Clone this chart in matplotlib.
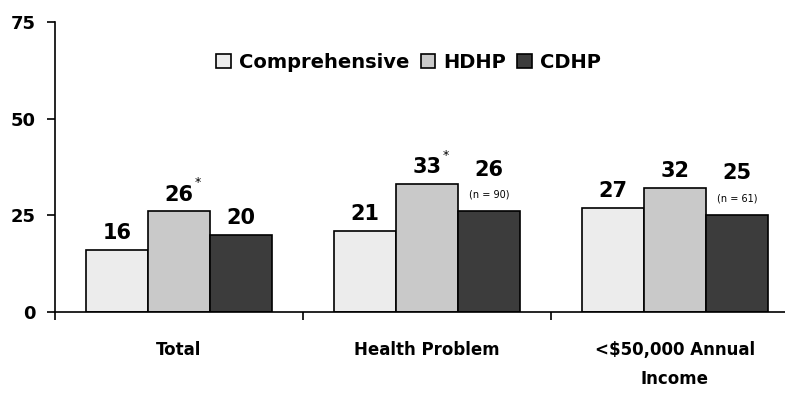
import matplotlib
matplotlib.use('Agg')
import matplotlib.pyplot as plt
from matplotlib.patches import Patch
import numpy as np

categories = ['Total', 'Health Problem', '<$50,000 Annual\nIncome']
series = ['Comprehensive', 'HDHP', 'CDHP']
comprehensive = [16, 21, 27]
hdhp = [26, 33, 32]
cdhp = [20, 26, 25]
hdhp_star = [True, True, False]
cdhp_note = ['', '(n = 90)', '(n = 61)']
y_ticks = [0, 25, 50, 75]

colors = ['#ececec', '#c9c9c9', '#3c3c3c']

fig = plt.figure(figsize=(7.85, 3.93), dpi=100, facecolor='white')
ax = fig.add_axes([55 / 785, 1 - 312 / 393, 744 / 785, 290 / 393])

x = np.arange(len(categories))
width = 0.25
values = [comprehensive, hdhp, cdhp]

for i, (vals, col) in enumerate(zip(values, colors)):
    pos = x + (i - 1) * width
    ax.bar(pos, vals, width, color=col, edgecolor='black', linewidth=1.2, zorder=2)
    for j, (px, v) in enumerate(zip(pos, vals)):
        off = 5
        if i == 2 and cdhp_note[j]:
            off = 23
            ax.annotate(cdhp_note[j], xy=(px, v), xytext=(0, 12), textcoords='offset points',
                        ha='center', va='center', fontsize=7, family='DejaVu Sans Condensed')
        ax.annotate(str(v), xy=(px, v), xytext=(0, off), textcoords='offset points',
                    ha='center', va='bottom', fontsize=15, fontweight='bold')
        if i == 1 and hdhp_star[j]:
            ax.annotate('*', xy=(px, v), xytext=(11, 16), textcoords='offset points',
                        ha='left', va='bottom', fontsize=9)

ax.set_xlim(-0.5, len(categories) - 0.5)
ax.set_ylim(0, 75)
ax.set_yticks(y_ticks)
ax.set_yticklabels([str(t) for t in y_ticks], fontsize=13, fontweight='bold')
ax.tick_params(axis='y', direction='out', length=6, width=1.2, pad=8)

ax.set_xticks(np.arange(len(categories) + 1) - 0.5)
ax.set_xticklabels([])
ax.tick_params(axis='x', which='major', direction='out', length=6, width=1.2)
ax.set_xticks(x, minor=True)
ax.set_xticklabels(categories, minor=True, fontsize=12, fontweight='bold', linespacing=1.75)
ax.tick_params(axis='x', which='minor', length=0, pad=21)

for s in ['top', 'right']:
    ax.spines[s].set_visible(False)
for s in ['left', 'bottom']:
    ax.spines[s].set_linewidth(1.2)

handles = [Patch(facecolor=c, edgecolor='black', linewidth=1.2) for c in colors]
ax.legend(handles, series, loc='center', bbox_to_anchor=(0.475, 0.862), ncol=3, frameon=False,
          prop={'weight': 'bold', 'size': 14}, handlelength=0.75, handleheight=0.75,
          handletextpad=0.4, columnspacing=0.6)

fig.savefig('out.png', dpi=100, facecolor='white')
